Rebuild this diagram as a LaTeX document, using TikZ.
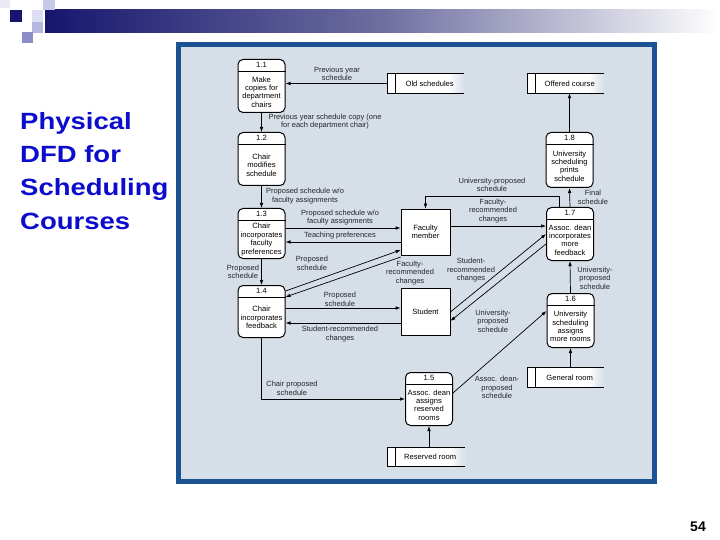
\documentclass[tikz,border=0pt]{standalone}
\usepackage{fontspec}
\setmainfont{Liberation Sans}
\newfontfamily\titlefamily[FakeStretch=1.17]{Liberation Sans}
\usetikzlibrary{arrows.meta,calc}
\definecolor{panel}{RGB}{214,222,232}
\definecolor{frameblue}{RGB}{26,82,146}
\definecolor{titleblue}{RGB}{12,12,205}
\definecolor{navy}{RGB}{22,22,110}
\definecolor{barmid}{RGB}{110,110,160}
\definecolor{sqa}{RGB}{222,222,242}
\definecolor{sqb}{RGB}{200,200,232}
\definecolor{sqc}{RGB}{182,182,222}
\definecolor{sqd}{RGB}{140,140,200}
\definecolor{sqe}{RGB}{232,232,246}
\newcommand\dfdfont{\fontsize{7.6}{8.4}\selectfont}
\newcommand\lblfont{\fontsize{7.5}{8.5}\selectfont}
\tikzset{
  proc/.style={draw, line width=1pt, rounded corners=5pt, fill=white, minimum width=47pt, inner sep=0},
  ent/.style={draw, line width=0.7pt, fill=white, inner sep=0, align=center, font=\dfdfont},
  arr/.style={-{Latex[length=5pt,width=3.6pt]}, line width=0.7pt},
  lbl/.style={font=\lblfont, align=center, inner sep=0, text=black!85}
}
\newcommand\procbox[6]{%
  \node[proc, minimum height=#4pt, anchor=north] (#1) at (#2,#3) {};
  \draw[line width=0.7pt] ([yshift=-12pt]#1.north west) -- ([yshift=-12pt]#1.north east);
  \node[font=\dfdfont, inner sep=0] at ([yshift=-6pt]#1.north) {#5};
  \node[font=\dfdfont, align=center, inner sep=0] at ([yshift=-6pt]#1.center) {#6};
}
\newcommand\dstore[5]{%
  \node[minimum width=#4pt, minimum height=19pt, inner sep=0, anchor=west] (#1) at (#2,#3) {};
  \fill[white] (#1.north west) rectangle (#1.south east);
  \shade[left color=white, right color=panel] ([xshift=-16pt]#1.north east) rectangle (#1.south east);
  \draw[line width=0.9pt] (#1.north east) -- (#1.north west) -- (#1.south west) -- (#1.south east);
  \draw[line width=0.7pt] ([xshift=8pt]#1.north west) -- ([xshift=8pt]#1.south west);
  \node[font=\dfdfont, inner sep=0] at ([xshift=4pt]#1.center) {#5};
}
\begin{document}
\begin{tikzpicture}[x=1pt,y=-1pt]
\useasboundingbox (0,0) rectangle (720,540);
\fill[white] (0,0) rectangle (720,540);
% header decoration
\shade[left color=navy, right color=white, middle color=barmid] (45,10) rectangle (720,33);
\fill[navy] (10,10) rectangle (22,22);
\fill[sqa] (32,10) rectangle (43,22);
\fill[sqb] (43,0) rectangle (55,10);
\fill[sqc] (32,22) rectangle (43,33);
\fill[sqd] (22,32) rectangle (33,43);
\fill[sqe] (0,0) rectangle (10,8);
% title
\node[anchor=base west, align=left, inner sep=0, text=titleblue,
  font=\titlefamily\bfseries\fontsize{23.5}{33.3}\selectfont] (title) at (20,229.3)
  {Physical\\DFD for\\Scheduling\\Courses};
% page number
\node[anchor=base east, inner sep=0, font=\bfseries\fontsize{14}{16}\selectfont] (pg) at (706,531) {54};
% frame
\filldraw[fill=panel, draw=frameblue, line width=5pt] (178.5,44.5) rectangle (654.5,481.5);

% processes
\procbox{p11}{261.5}{59}{53}{1.1}{Make\\copies for\\department\\chairs}
\procbox{p12}{261.5}{132}{53}{1.2}{Chair\\modifies\\schedule}
\procbox{p13}{261.5}{208}{50}{1.3}{Chair\\incorporates\\faculty\\preferences}
\procbox{p14}{261.5}{285}{52}{1.4}{Chair\\incorporates\\feedback}
\procbox{p15}{429}{372}{53}{1.5}{Assoc. dean\\assigns\\reserved\\rooms}
\procbox{p16}{570.5}{293}{54}{1.6}{University\\scheduling\\assigns\\more rooms}
\procbox{p17}{570}{207}{53}{1.7}{Assoc. dean\\incorporates\\more\\feedback}
\procbox{p18}{569.5}{132}{55}{1.8}{University\\scheduling\\prints\\schedule}

% external entities
\node[ent, minimum width=49pt, minimum height=46pt] (fac) at (425.5,232) {Faculty\\member};
\node[ent, minimum width=49pt, minimum height=47pt] (stu) at (425.5,311.5) {Student};

% data stores
\dstore{old}{387}{83.5}{77}{Old schedules}
\dstore{off}{527}{83.5}{77}{Offered course}
\dstore{gen}{527}{377.5}{77}{General room}
\dstore{res}{387}{457}{78}{Reserved room}

% flows
\draw[arr] (old.west) -- (p11.east |- old.west);
\node[lbl] at (337,74) {Previous year\\schedule};

\draw[arr] (p11.south) -- (p12.north);
\node[lbl] at (325,121.5) {Previous year schedule copy (one\\for each department chair)};

\draw[arr] (p12.south) -- (p13.north);
\node[lbl] at (305,196) {Proposed schedule w/o\\faculty assignments};

\draw[arr] (p13.east |- 0,228) -- (fac.west |- 0,228);
\node[lbl] at (340,217.5) {Proposed schedule w/o\\faculty assignments};

\draw[arr] (fac.west |- 0,242) -- (p13.east |- 0,242);
\node[lbl] at (340,236) {Teaching preferences};

\draw[arr] (p13.south) -- (p14.north);
\node[lbl] at (243,272) {Proposed\\schedule};

\draw[arr] (p14.east |- 0,291) -- (fac.west |- 0,250);
\node[lbl] at (312,263.5) {Proposed\\schedule};

\draw[arr] (fac.west |- 0,257) -- (p14.east |- 0,297);
\node[lbl] at (410,273) {Faculty-\\recommended\\changes};

\draw[arr] (p14.east |- 0,308) -- (stu.west |- 0,308);
\node[lbl] at (340,299.5) {Proposed\\schedule};

\draw[arr] (stu.west |- 0,323) -- (p14.east |- 0,323);
\node[lbl] at (340,334) {Student-recommended\\changes};

\draw[arr] (p14.south) |- (p15.west);
\node[lbl] at (292,388.5) {Chair proposed\\schedule};

\draw[arr] (p15.south |- res.north) -- (p15.south);

\draw[arr] (p15.east |- 0,393) -- (p16.west |- 0,311);
\node[lbl] at (497,387.5) {Assoc. dean-\\proposed\\schedule};

\draw[arr] (p16.south |- gen.north) -- (p16.south);

\draw[arr] (p16.north) -- (p17.south);
\node[lbl] at (595,278) {University-\\proposed\\schedule};

\draw[arr] (fac.east |- 0,226) -- (p17.west |- 0,226);
\node[lbl] at (493,211) {Faculty-\\recommended\\changes};

\draw[arr] ([xshift=-11pt]p17.north) |- ++(0,-11) -| (fac.north);
\node[lbl] at (492,185) {University-proposed\\schedule};

\draw[arr] (stu.east |- 0,312) -- (p17.west |- 0,234);
\node[lbl] at (471,270.5) {Student-\\recommended\\changes};

\draw[arr] (p17.west |- 0,244) -- (stu.east |- 0,321);
\node[lbl] at (493,321) {University-\\proposed\\schedule};

\draw[arr] (p17.north) -- (p18.south);
\node[lbl] at (593,197.5) {Final\\schedule};

\draw[arr] (p18.north) -- (off.south -| p18.north);
\end{tikzpicture}
\end{document}
